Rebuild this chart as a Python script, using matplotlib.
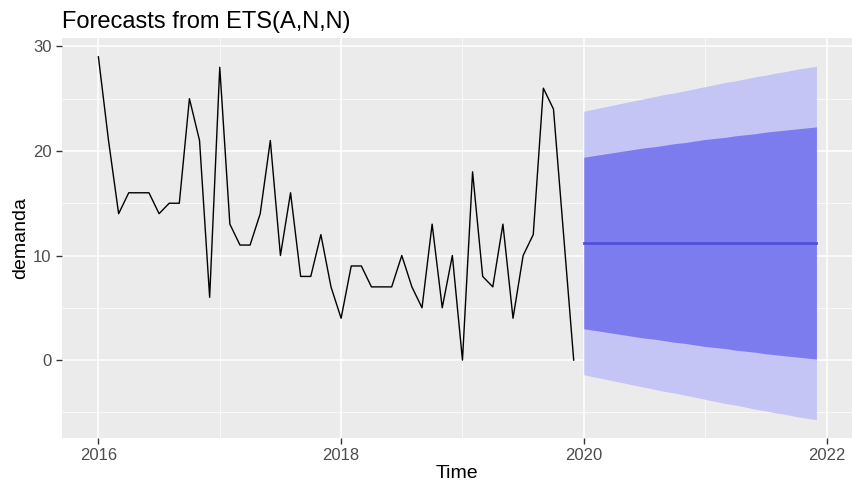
import numpy as np
import matplotlib
matplotlib.use("Agg")
import matplotlib.pyplot as plt

plt.rcParams["font.family"] = ["Liberation Sans", "DejaVu Sans"]

# monthly demand, Jan 2016 - Dec 2019
demanda = [29, 21, 14, 16, 16, 16, 14, 15, 15, 25, 21, 6,
           28, 13, 11, 11, 14, 21, 10, 16, 8, 8, 12, 7,
           4, 9, 9, 7, 7, 7, 10, 7, 5, 13, 5, 10,
           0, 18, 8, 7, 13, 4, 10, 12, 26, 24, 12, 0]

# forecast Jan 2020 - Dec 2021
fc_mean = [11.2] * 24
lo80 = [3.0, 2.85, 2.7, 2.55, 2.4, 2.25, 2.1, 2.0, 1.85, 1.7, 1.6, 1.45,
        1.3, 1.2, 1.1, 0.95, 0.85, 0.75, 0.6, 0.5, 0.4, 0.3, 0.2, 0.1]
hi80 = [19.4, 19.55, 19.7, 19.85, 20.0, 20.15, 20.3, 20.4, 20.55, 20.7, 20.8, 20.95,
        21.1, 21.2, 21.3, 21.45, 21.55, 21.65, 21.8, 21.9, 22.0, 22.1, 22.2, 22.3]
lo95 = [-1.4, -1.6, -1.8, -2.0, -2.2, -2.4, -2.6, -2.8, -3.0, -3.15, -3.35, -3.55,
        -3.75, -3.95, -4.15, -4.3, -4.5, -4.7, -4.85, -5.05, -5.2, -5.4, -5.55, -5.7]
hi95 = [23.8, 24.0, 24.2, 24.4, 24.6, 24.8, 25.0, 25.2, 25.4, 25.55, 25.75, 25.95,
        26.15, 26.35, 26.55, 26.7, 26.9, 27.1, 27.25, 27.45, 27.6, 27.8, 27.95, 28.1]

t_hist = 2016 + np.arange(len(demanda)) / 12
t_fc = 2020 + np.arange(len(fc_mean)) / 12

fig = plt.figure(figsize=(8.52, 4.82), dpi=100)
ax = fig.add_axes([62 / 852, 44 / 482, 790 / 852, 400 / 482])
ax.set_facecolor("#EBEBEB")

ax.fill_between(t_fc, lo95, hi95, color="#C4C4F5", lw=0)
ax.fill_between(t_fc, lo80, hi80, color="#7C7CEF", lw=0)
ax.plot(t_fc, fc_mean, color="#5050D8", lw=2)
ax.plot(t_hist, demanda, color="black", lw=1)

ax.set_xlim(2015.70, 2022.21)
ax.set_ylim(-7.45, 30.8)
ax.set_xticks([2016, 2018, 2020, 2022])
ax.set_xticks([2017, 2019, 2021], minor=True)
ax.set_yticks([0, 10, 20, 30])
ax.set_yticks([-5, 5, 15, 25], minor=True)
ax.grid(which="major", color="white", lw=1.1)
ax.grid(which="minor", color="white", lw=0.5)
ax.set_axisbelow(True)
for s in ax.spines.values():
    s.set_visible(False)
ax.tick_params(which="major", colors="#333333", labelcolor="#4D4D4D",
               labelsize=12, length=4, width=1)
ax.tick_params(which="minor", length=0)

ax.set_xlabel("Time", fontsize=14, labelpad=1)
ax.set_ylabel("demanda", fontsize=14, labelpad=3)
ax.set_title("Forecasts from ETS(A,N,N)", fontsize=17, loc="left", pad=7)

fig.savefig("out.png", dpi=100)
